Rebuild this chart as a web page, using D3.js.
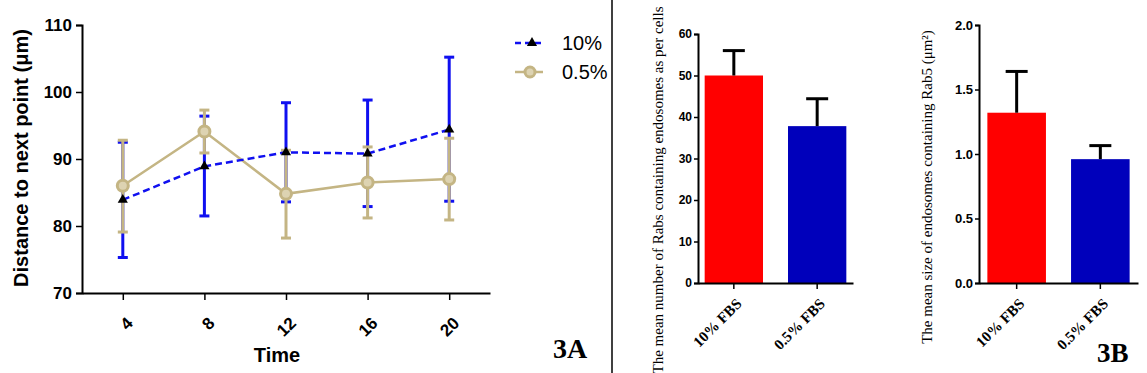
<!DOCTYPE html>
<html><head><meta charset="utf-8">
<script src="https://cdn.jsdelivr.net/npm/d3@7"></script>
<style>body{margin:0;background:#fff}svg{display:block}</style>
</head><body>
<svg id="c" width="1147" height="373"></svg>
<script>
// ---- Data: panel 3A ----
const times = [4, 8, 12, 16, 20];
const mean10 = [83.9, 88.9, 91.0, 90.8, 94.4];
const lo10 = [75.3, 81.5, 83.6, 82.9, 83.7];
const hi10 = [92.5, 96.4, 98.4, 98.8, 105.2];
const mean05 = [86.0, 94.1, 84.8, 86.5, 87.0];
const lo05 = [79.1, 90.9, 78.2, 81.2, 80.9];
const hi05 = [92.8, 97.3, 91.3, 91.8, 93.1];
const yTicksA = [70, 80, 90, 100, 110];
const seriesNamesA = ["10%", "0.5%"];

// ---- Data: panel 3B ----
const groups = ["10% FBS", "0.5% FBS"];
const countMean = [50.0, 37.8];
const countErr = [56.0, 44.4];
const sizeMean = [1.32, 0.96];
const sizeErr = [1.64, 1.065];
const yTicksB1 = [0, 10, 20, 30, 40, 50, 60];
const yTicksB2 = [0.0, 0.5, 1.0, 1.5, 2.0];

const svg = d3.select("#c");
const SANS = "'Liberation Sans', Arial, sans-serif";
const SERIF = "'Liberation Serif', 'Times New Roman', serif";
const BLUE = "#1010f0", TAN = "#c4b584";

// ===== Panel A =====
const x = d3.scaleLinear().domain([2, 22]).range([82, 490]);
const y = d3.scaleLinear().domain([70, 110]).range([293, 25]);
const gA = svg.append("g");

// y axis
const yAx = gA.append("g").attr("transform", "translate(82,0)")
  .call(d3.axisLeft(y).tickValues(yTicksA).tickSize(6).tickPadding(4));
yAx.select(".domain").attr("stroke-width", 2);
yAx.selectAll("line").attr("stroke-width", 1.5);
yAx.selectAll("text").attr("font-family", SANS).attr("font-weight", "bold").attr("font-size", 17).attr("fill", "#000");
// x axis
const xAx = gA.append("g").attr("transform", "translate(0,293)")
  .call(d3.axisBottom(x).tickValues(times).tickSize(7).tickSizeOuter(0).tickFormat(""));
xAx.select(".domain").attr("stroke-width", 2);
xAx.selectAll("line").attr("stroke-width", 1.5);
gA.selectAll("text.xl").data(times).join("text").attr("class", "xl")
  .attr("transform", d => `translate(${x(d) + 7},${320}) rotate(-45)`)
  .attr("text-anchor", "end").attr("dy", "0.35em")
  .attr("font-family", SANS).attr("font-weight", "bold").attr("font-size", 17).text(d => d);

gA.append("text").attr("transform", "translate(28,158) rotate(-90)")
  .attr("text-anchor", "middle").attr("font-family", SANS).attr("font-weight", "bold")
  .attr("font-size", 20).text("Distance to next point (μm)");
gA.append("text").attr("x", 277).attr("y", 362).attr("text-anchor", "middle")
  .attr("font-family", SANS).attr("font-weight", "bold").attr("font-size", 20).text("Time");

function errBars(g, mean, lo, hi, color) {
  const d = times.map((t, i) => ({t, lo: lo[i], hi: hi[i]}));
  g.selectAll(null).data(d).join("line")
    .attr("x1", e => x(e.t)).attr("x2", e => x(e.t)).attr("y1", e => y(e.lo)).attr("y2", e => y(e.hi))
    .attr("stroke", color).attr("stroke-width", 3);
  ["lo", "hi"].forEach(k => {
    g.selectAll(null).data(d).join("line")
      .attr("x1", e => x(e.t) - 5).attr("x2", e => x(e.t) + 5).attr("y1", e => y(e[k])).attr("y2", e => y(e[k]))
      .attr("stroke", color).attr("stroke-width", 3);
  });
}
errBars(gA, mean10, lo10, hi10, BLUE);
errBars(gA, mean05, lo05, hi05, TAN);

const line = d3.line().x((d, i) => x(times[i])).y(d => y(d));
gA.append("path").datum(mean05).attr("d", line).attr("fill", "none").attr("stroke", TAN).attr("stroke-width", 2.5);
gA.append("path").datum(mean10).attr("d", line).attr("fill", "none").attr("stroke", BLUE)
  .attr("stroke-width", 2.5).attr("stroke-dasharray", "7,4");

const tri = d3.symbol().type(d3.symbolTriangle).size(45);
gA.selectAll("circle.m05").data(mean05).join("circle").attr("class", "m05")
  .attr("cx", (d, i) => x(times[i])).attr("cy", d => y(d)).attr("r", 5.5)
  .attr("fill", "#ddd3b2").attr("stroke", TAN).attr("stroke-width", 3);
gA.selectAll("path.m10").data(mean10).join("path").attr("class", "m10")
  .attr("transform", (d, i) => `translate(${x(times[i])},${y(d)})`).attr("d", tri).attr("fill", "#000");

// legend
const lg = gA.append("g");
lg.append("line").attr("x1", 515).attr("x2", 543).attr("y1", 43).attr("y2", 43)
  .attr("stroke", BLUE).attr("stroke-width", 2.5).attr("stroke-dasharray", "6,4");
lg.append("path").attr("transform", "translate(532,43)").attr("d", tri).attr("fill", "#000");
lg.append("line").attr("x1", 515).attr("x2", 543).attr("y1", 72).attr("y2", 72)
  .attr("stroke", TAN).attr("stroke-width", 2.5);
lg.append("circle").attr("cx", 530).attr("cy", 72).attr("r", 5).attr("fill", "#ddd3b2").attr("stroke", TAN).attr("stroke-width", 3);
lg.selectAll("text").data(seriesNamesA).join("text")
  .attr("x", 562).attr("y", (d, i) => 50 + i * 29)
  .attr("font-family", SANS).attr("font-size", 20).attr("fill", "#000").text(d => d);

gA.append("text").attr("x", 553).attr("y", 358).attr("font-family", SERIF).attr("font-weight", "bold")
  .attr("font-size", 28).text("3A");

// divider
svg.append("line").attr("x1", 612).attr("x2", 612).attr("y1", 0).attr("y2", 373).attr("stroke", "#000").attr("stroke-width", 1.5);

// ===== Panel B =====
function barPanel(opts) {
  const g = svg.append("g");
  const xb = d3.scaleBand().domain(groups).range([opts.x0, opts.x1]).paddingInner(opts.pin).paddingOuter(opts.pout);
  const yb = d3.scaleLinear().domain(opts.dom).range([opts.yb, opts.yt]);
  const cols = ["#ff0000", "#0000bb"];
  g.selectAll("rect").data(opts.mean).join("rect")
    .attr("x", (d, i) => xb(groups[i])).attr("width", xb.bandwidth())
    .attr("y", d => yb(d)).attr("height", d => yb(opts.dom[0]) - yb(d))
    .attr("fill", (d, i) => cols[i]);
  g.selectAll("line.st").data(opts.err).join("line").attr("class", "st")
    .attr("x1", (d, i) => xb(groups[i]) + xb.bandwidth() / 2).attr("x2", (d, i) => xb(groups[i]) + xb.bandwidth() / 2)
    .attr("y1", (d, i) => yb(opts.mean[i])).attr("y2", d => yb(d)).attr("stroke", "#000").attr("stroke-width", 3);
  g.selectAll("line.cap").data(opts.err).join("line").attr("class", "cap")
    .attr("x1", (d, i) => xb(groups[i]) + xb.bandwidth() / 2 - 11).attr("x2", (d, i) => xb(groups[i]) + xb.bandwidth() / 2 + 11)
    .attr("y1", d => yb(d)).attr("y2", d => yb(d)).attr("stroke", "#000").attr("stroke-width", 3);
  const ya = g.append("g").attr("transform", `translate(${opts.x0},0)`)
    .call(d3.axisLeft(yb).tickValues(opts.ticks).tickSize(4).tickPadding(2).tickFormat(opts.fmt));
  ya.select(".domain").attr("stroke-width", 2);
  ya.selectAll("line").attr("stroke-width", 1.5);
  ya.selectAll("text").attr("font-family", SANS).attr("font-weight", "bold").attr("font-size", opts.tfs).attr("fill", "#000");
  const xa = g.append("g").attr("transform", `translate(0,${opts.yb})`)
    .call(d3.axisBottom(xb).tickSize(6).tickSizeOuter(0).tickFormat(""));
  xa.select(".domain").attr("stroke-width", 2);
  xa.selectAll("line").attr("stroke-width", 1.5);
  g.selectAll("text.gl").data(groups).join("text").attr("class", "gl")
    .attr("transform", d => `translate(${xb(d) + xb.bandwidth() / 2 + 5},${opts.yb + 18}) rotate(-45)`)
    .attr("text-anchor", "end").attr("dy", "0.35em")
    .attr("font-family", SERIF).attr("font-weight", "bold").attr("font-size", 15).text(d => d);
  g.append("text").attr("transform", `translate(${opts.lx},${opts.ly}) rotate(-90)`)
    .attr("text-anchor", "middle").attr("font-family", SERIF).attr("font-size", 15).text(opts.label);
  return g;
}

barPanel({x0: 698, x1: 853, yb: 283, yt: 34, dom: [0, 60], ticks: yTicksB1, fmt: d3.format("d"),
  pin: 0.3, pout: 0.08, mean: countMean, err: countErr, tfs: 12, lx: 663, ly: 190,
  label: "The mean number of Rabs containing endosomes as per cells"});
barPanel({x0: 979, x1: 1138, yb: 283, yt: 25, dom: [0, 2], ticks: yTicksB2, fmt: d3.format(".1f"),
  pin: 0.3, pout: 0.1, mean: sizeMean, err: sizeErr, tfs: 13, lx: 932, ly: 187,
  label: "The mean size of endosomes containing Rab5 (μm²)"});

svg.append("text").attr("x", 1097).attr("y", 362).attr("font-family", SERIF).attr("font-weight", "bold")
  .attr("font-size", 27).text("3B");
</script>
</body></html>
